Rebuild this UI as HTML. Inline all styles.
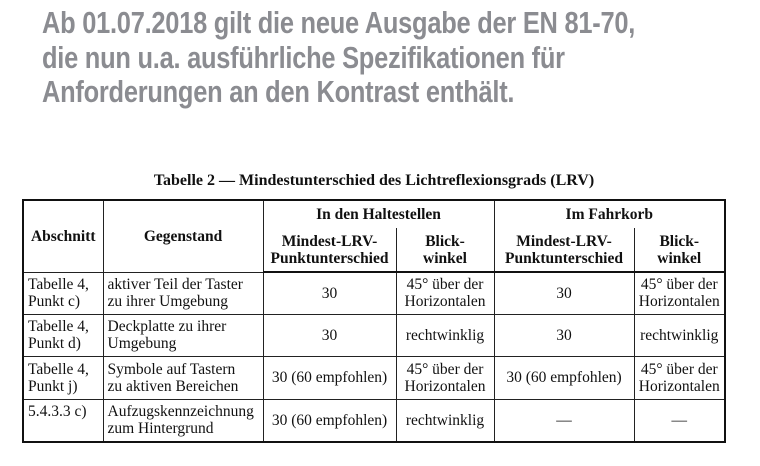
<!DOCTYPE html>
<html><head><meta charset="utf-8"><style>
body{margin:0;width:760px;height:466px;background:#fff;position:relative;overflow:hidden}
.h{position:absolute;left:42px;top:6px;font-family:"Liberation Sans",sans-serif;font-weight:bold;color:#8b8c91;font-size:31px;line-height:34.5px;letter-spacing:-0.3px;white-space:nowrap;transform:scaleX(0.82);transform-origin:0 0}
.t{position:absolute;left:0;width:748px;top:172px;text-align:center;font-family:"Liberation Serif",serif;font-weight:bold;font-size:16px;color:#111}
table{position:absolute;left:22px;top:199px;border-collapse:collapse;table-layout:fixed;font-family:"Liberation Serif",serif;font-size:15.5px;color:#111;border:2px solid #111}
td{border:1px solid #222;padding:0 4px;line-height:17px;vertical-align:middle;white-space:nowrap;overflow:hidden}
.c{text-align:center;padding:0}
.b{font-weight:bold;text-align:center;padding:0}
.hb td{border-bottom:2px solid #111}
</style></head><body>
<div class="h">Ab 01.07.2018 gilt die neue Ausgabe der EN 81-70,<br>die nun u.a. ausführliche Spezifikationen für<br>Anforderungen an den Kontrast enthält.</div>
<div class="t">Tabelle 2 — Mindestunterschied des Lichtreflexionsgrads (LRV)</div>
<table>
<colgroup><col style="width:80px"><col style="width:160px"><col style="width:133px"><col style="width:98px"><col style="width:140px"><col style="width:91px"></colgroup>
<tr style="height:28px"><td class="b" rowspan="2">Abschnitt</td><td class="b" rowspan="2">Gegenstand</td><td class="b" colspan="2" style="border-bottom:none">In den Haltestellen</td><td class="b" colspan="2" style="border-bottom:none">Im Fahrkorb</td></tr>
<tr class="hb" style="height:44px"><td class="b" style="border-top:none">Mindest-LRV-<br>Punktunterschied</td><td class="b" style="border-top:none">Blick-<br>winkel</td><td class="b" style="border-top:none">Mindest-LRV-<br>Punktunterschied</td><td class="b" style="border-top:none">Blick-<br>winkel</td></tr>
<tr style="height:42px"><td>Tabelle 4,<br>Punkt c)</td><td>aktiver Teil der Taster<br>zu ihrer Umgebung</td><td class="c">30</td><td class="c">45° über der<br>Horizontalen</td><td class="c">30</td><td class="c">45° über der<br>Horizontalen</td></tr>
<tr style="height:42px"><td>Tabelle 4,<br>Punkt d)</td><td>Deckplatte zu ihrer<br>Umgebung</td><td class="c">30</td><td class="c">rechtwinklig</td><td class="c">30</td><td class="c">rechtwinklig</td></tr>
<tr style="height:43px"><td>Tabelle 4,<br>Punkt j)</td><td>Symbole auf Tastern<br>zu aktiven Bereichen</td><td class="c">30 (60 empfohlen)</td><td class="c">45° über der<br>Horizontalen</td><td class="c">30 (60 empfohlen)</td><td class="c">45° über der<br>Horizontalen</td></tr>
<tr style="height:43px"><td style="vertical-align:top;padding-top:3px">5.4.3.3 c)</td><td>Aufzugskennzeichnung<br>zum Hintergrund</td><td class="c">30 (60 empfohlen)</td><td class="c">rechtwinklig</td><td class="c">—</td><td class="c">—</td></tr>
</table>
</body></html>
